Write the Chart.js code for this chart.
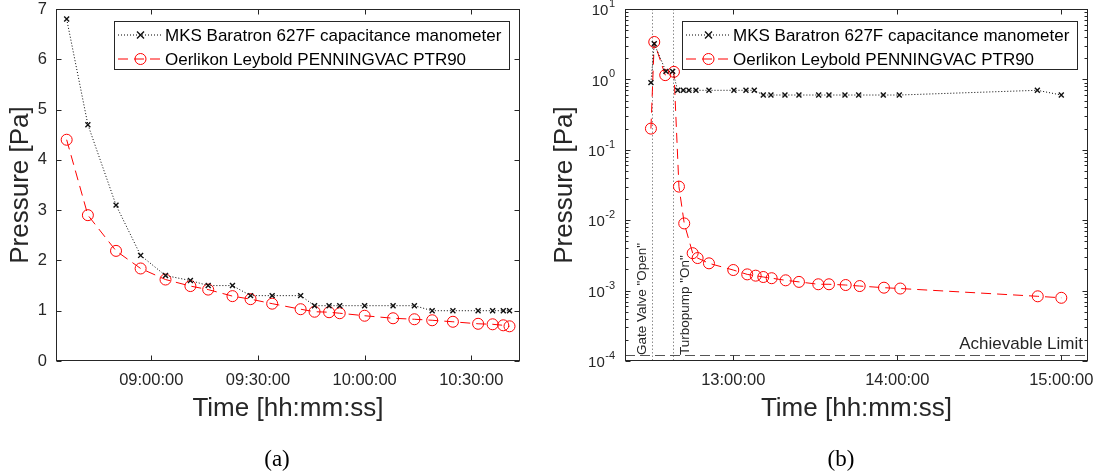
<!DOCTYPE html>
<html>
<head>
<meta charset="utf-8">
<script src="https://cdn.jsdelivr.net/npm/chart.js@4.4.0/dist/chart.umd.min.js"></script>
<style>
  html, body { margin: 0; padding: 0; background: #fff; }
  #wrap { position: relative; width: 1109px; height: 475px; overflow: hidden; }
  canvas { position: absolute; top: 0; }
  #chartA { left: 0; }
  #chartB { left: 545px; }
  .cap { position: absolute; top: 447px; font-family: "Liberation Serif", "DejaVu Serif", serif;
         font-size: 23px; line-height: 23px; color: #000; transform: translateX(-50%); }
</style>
</head>
<body>
<div id="wrap">
  <canvas id="chartA" width="560" height="475"></canvas>
  <canvas id="chartB" width="564" height="475"></canvas>
  <div class="cap" style="left:277px">(a)</div>
  <div class="cap" style="left:841px">(b)</div>
</div>
<script>
//
// Data
//

var seriesNames = ["MKS Baratron 627F capacitance manometer", "Oerlikon Leybold PENNINGVAC PTR90"];

// (a) both gauges read at the same times
var timesA = ["08:36:12", "08:42:10", "08:50:05", "08:57:00", "09:04:00", "09:11:00", "09:16:00", "09:22:50",
              "09:27:55", "09:34:00", "09:42:00", "09:45:55", "09:50:00", "09:53:00", "10:00:00", "10:08:00",
              "10:14:00", "10:19:00", "10:24:50", "10:31:55", "10:36:00", "10:39:00", "10:40:45"];
var baratronA = [6.8, 4.7, 3.1, 2.1, 1.7, 1.6, 1.5, 1.5, 1.3, 1.3, 1.3, 1.1, 1.1, 1.1, 1.1, 1.1,
                 1.1, 1.0, 1.0, 1.0, 1.0, 1.0, 1.0];
var penningA = [4.4, 2.9, 2.19, 1.84, 1.62, 1.49, 1.42, 1.29, 1.23, 1.14, 1.03, 0.98, 0.97, 0.95, 0.90, 0.85,
                0.83, 0.81, 0.78, 0.74, 0.73, 0.71, 0.69];
var xRangeA = ["08:33:12", "10:43:42"];
var xTickLabelsA = ["09:00:00", "09:30:00", "10:00:00", "10:30:00"];
var yTicksA = [0, 1, 2, 3, 4, 5, 6, 7];

// (b)
var timesBaratronB = ["12:29:53", "12:31:06", "12:35:22", "12:37:50", "12:39:40", "12:41:43", "12:43:47", "12:46:21",
                      "12:51:07", "13:00:15", "13:04:39", "13:07:41", "13:10:59", "13:13:47", "13:18:55", "13:24:02",
                      "13:31:15", "13:35:01", "13:40:52", "13:45:53", "13:54:53", "14:00:44", "14:51:14", "15:00:00"];
var baratronB = [0.9, 3.2, 1.3, 1.3, 0.7, 0.7, 0.7, 0.7, 0.7, 0.7, 0.7, 0.7, 0.6, 0.6, 0.6, 0.6,
                 0.6, 0.6, 0.6, 0.6, 0.6, 0.6, 0.7, 0.6];
var timesPenningB = ["12:29:53", "12:31:06", "12:35:07", "12:38:18", "12:40:08", "12:42:04", "12:45:09", "12:46:58",
                     "12:51:07", "13:00:00", "13:05:07", "13:08:12", "13:10:59", "13:14:03", "13:19:10", "13:24:02",
                     "13:31:06", "13:35:01", "13:41:08", "13:46:15", "13:55:08", "14:01:06", "14:51:23", "15:00:00"];
var penningB = [0.2, 3.4, 1.15, 1.28, 0.030, 0.0090, 0.0034, 0.0029, 0.00244, 0.00196, 0.0017, 0.00163,
                0.00156, 0.0015, 0.0014, 0.00133, 0.00123, 0.00123, 0.0012, 0.00116, 0.0011, 0.00107, 0.00083, 0.00079];
var xRangeB = ["12:20:24", "15:09:46"];
var xTickLabelsB = ["13:00:00", "14:00:00", "15:00:00"];
var yDecadesB = [-4, -3, -2, -1, 0, 1];
var gateValveTime = "12:30:24";
var turbopumpTime = "12:37:48";
var achievableLimit = 1.22e-4;

//
// Helpers
//

var AXIS = "#262626";
var FONT = '"Liberation Sans", Arial, Helvetica, sans-serif';

function minutes(s) {
  var p = s.split(":");
  return (+p[0]) * 60 + (+p[1]) + (+p[2]) / 60;
}

function clock(m) {
  var t = Math.round(m * 60);
  return [Math.floor(t / 3600), Math.floor(t % 3600 / 60), t % 60]
    .map(function (v) { return (v < 10 ? "0" : "") + v; }).join(":");
}

function points(times, values) {
  return times.map(function (t, i) { return { x: minutes(t), y: values[i] }; });
}

function marker(ctx, d, x, y) {
  var r = d.pointRadius;
  ctx.save();
  ctx.strokeStyle = d.pointBorderColor;
  ctx.lineWidth = d.pointBorderWidth;
  ctx.setLineDash([]);
  ctx.beginPath();
  if (d.pointStyle === "crossRot") {
    ctx.moveTo(x - r, y - r); ctx.lineTo(x + r, y + r);
    ctx.moveTo(x - r, y + r); ctx.lineTo(x + r, y - r);
  } else {
    ctx.arc(x, y, r, 0, Math.PI * 2);
  }
  ctx.stroke();
  ctx.restore();
}

// legend box inside the top right corner of the axes
function drawLegend(chart) {
  var ctx = chart.ctx, a = chart.chartArea, ds = chart.data.datasets;
  ctx.save();
  ctx.font = "17px " + FONT;
  var tw = Math.max.apply(null, ds.map(function (d) { return ctx.measureText(d.label).width; }));
  var w = Math.round(51 + tw + 8), h = 48;
  var right = Math.round(a.right) - 11, left = right - w, top = Math.round(a.top) + 12;
  ctx.fillStyle = "#fff";
  ctx.fillRect(left, top, w, h);
  ctx.strokeStyle = AXIS;
  ctx.lineWidth = 1;
  ctx.strokeRect(left + 0.5, top + 0.5, w, h);
  ds.forEach(function (d, i) {
    var y = top + 14 + i * 24;
    ctx.strokeStyle = d.borderColor;
    ctx.lineWidth = d.borderWidth;
    ctx.setLineDash(d.borderDash);
    ctx.beginPath();
    ctx.moveTo(left + 4, y);
    ctx.lineTo(left + 49, y);
    ctx.stroke();
    ctx.setLineDash([]);
    marker(ctx, d, left + 26.5, y);
    ctx.fillStyle = "#000";
    ctx.textAlign = "left";
    ctx.textBaseline = "middle";
    ctx.fillText(d.label, left + 51, y + 1);
  });
  ctx.restore();
}

// MATLAB style box with inward ticks on all four sides
var boxAxes = {
  id: "boxAxes",
  afterDraw: function (chart) {
    var ctx = chart.ctx, a = chart.chartArea, xs = chart.scales.x, ys = chart.scales.y;
    var L = Math.round(a.left) + 0.5, R = Math.round(a.right) - 0.5;
    var T = Math.round(a.top) + 0.5, B = Math.round(a.bottom) - 0.5;
    ctx.save();
    ctx.strokeStyle = AXIS;
    ctx.lineWidth = 1;
    ctx.beginPath();
    xs.ticks.forEach(function (t) {
      var p = Math.round(xs.getPixelForValue(t.value)) + 0.5;
      ctx.moveTo(p, B); ctx.lineTo(p, B - 5);
      ctx.moveTo(p, T); ctx.lineTo(p, T + 5);
    });
    ys.ticks.forEach(function (t) {
      var p = Math.round(ys.getPixelForValue(t.value)) + 0.5;
      ctx.moveTo(L, p); ctx.lineTo(L + 5, p);
      ctx.moveTo(R, p); ctx.lineTo(R - 5, p);
    });
    if (ys.type === "logarithmic") {
      yDecadesB.slice(0, -1).forEach(function (e) {
        for (var k = 2; k < 10; k++) {
          var p = Math.round(ys.getPixelForValue(k * Math.pow(10, e))) + 0.5;
          ctx.moveTo(L, p); ctx.lineTo(L + 3, p);
          ctx.moveTo(R, p); ctx.lineTo(R - 3, p);
        }
      });
      // 10^n labels
      ctx.fillStyle = AXIS;
      ctx.textAlign = "right";
      ctx.textBaseline = "middle";
      ys.ticks.forEach(function (t) {
        var e = String(Math.round(Math.log10(t.value)));
        var p = ys.getPixelForValue(t.value), x = a.left - 10;
        ctx.font = "11px " + FONT;
        var ew = ctx.measureText(e).width;
        ctx.fillText(e, x, p - 5);
        ctx.font = "15px " + FONT;
        ctx.fillText("10", x - ew - 0.5, p + 2);
      });
    }
    ctx.stroke();
    ctx.strokeRect(L, T, R - L, B - T);
    ctx.restore();
    drawLegend(chart);
  }
};

// event markers and achievable limit for (b)
var events = {
  id: "events",
  beforeDatasetsDraw: function (chart) {
    var ctx = chart.ctx, a = chart.chartArea, xs = chart.scales.x, ys = chart.scales.y;
    ctx.save();
    ctx.lineWidth = 1;
    ctx.strokeStyle = "#8c8c8c";
    ctx.setLineDash([1.5, 2]);
    [gateValveTime, turbopumpTime].forEach(function (t) {
      var p = Math.round(xs.getPixelForValue(minutes(t))) + 0.5;
      ctx.beginPath(); ctx.moveTo(p, a.top); ctx.lineTo(p, a.bottom); ctx.stroke();
    });
    ctx.strokeStyle = "#555";
    ctx.setLineDash([10, 5]);
    var yl = Math.round(ys.getPixelForValue(achievableLimit)) + 0.5;
    ctx.beginPath(); ctx.moveTo(a.left, yl); ctx.lineTo(a.right, yl); ctx.stroke();
    ctx.setLineDash([]);

    ctx.fillStyle = AXIS;
    ctx.font = "17px " + FONT;
    ctx.textAlign = "right";
    ctx.textBaseline = "alphabetic";
    ctx.fillText("Achievable Limit", a.right - 5, yl - 7);

    ctx.font = "13.5px " + FONT;
    ctx.textAlign = "left";
    [[gateValveTime, -6.8, 'Gate Valve "Open"'], [turbopumpTime, 16.8, 'Turbopump "On"']].forEach(function (ev) {
      ctx.save();
      ctx.translate(xs.getPixelForValue(minutes(ev[0])) + ev[1], a.bottom - 6);
      ctx.rotate(-Math.PI / 2);
      ctx.fillText(ev[2], 0, 0);
      ctx.restore();
    });
    ctx.restore();
  }
};

function makeDatasets(bx, by, px, py) {
  return [
    {
      label: seriesNames[0], data: points(bx, by),
      borderColor: "#000", borderWidth: 1, borderDash: [1, 2],
      pointStyle: "crossRot", pointRadius: 3.5, pointBorderWidth: 1.4,
      pointBorderColor: "#111", pointBackgroundColor: "#111", fill: false
    },
    {
      label: seriesNames[1], data: points(px, py),
      borderColor: "#ff0000", borderWidth: 1, borderDash: [10, 6],
      pointStyle: "circle", pointRadius: 5.5, pointBorderWidth: 1,
      pointBorderColor: "#ff0000", pointBackgroundColor: "rgba(0,0,0,0)", fill: false
    }
  ];
}

function xScale(range, labels) {
  return {
    type: "linear", min: minutes(range[0]), max: minutes(range[1]),
    grid: { display: false, drawTicks: false }, border: { display: false },
    afterBuildTicks: function (s) { s.ticks = labels.map(function (l) { return { value: minutes(l) }; }); },
    afterFit: function (s) { s.height = 475 - 361; s.paddingLeft = 0; s.paddingRight = 0; },
    ticks: { callback: clock, color: AXIS, font: { family: FONT, size: 16.5 }, padding: 10, maxRotation: 0, autoSkip: false },
    title: { display: true, text: "Time [hh:mm:ss]", color: AXIS, font: { family: FONT, size: 26 }, padding: { top: 0, bottom: 51 } }
  };
}

function baseOptions(padRight) {
  return {
    responsive: false, animation: false, devicePixelRatio: 1,
    layout: { padding: { left: 0, right: padRight, top: 9, bottom: 0 } },
    plugins: { legend: { display: false }, tooltip: { enabled: false } },
    elements: { line: { tension: 0 } }
  };
}

//
// (a) linear
//

var optsA = baseOptions(40);
optsA.scales = {
  x: xScale(xRangeA, xTickLabelsA),
  y: {
    type: "linear", min: 0, max: 7,
    grid: { display: false, drawTicks: false }, border: { display: false },
    afterBuildTicks: function (s) { s.ticks = yTicksA.map(function (v) { return { value: v }; }); },
    afterFit: function (s) { s.width = 56; s.paddingTop = 0; s.paddingBottom = 0; },
    ticks: { color: AXIS, font: { family: FONT, size: 16.5 }, padding: 9 },
    title: { display: true, text: "Pressure [Pa]", color: AXIS, font: { family: FONT, size: 26 }, padding: { top: 5, bottom: 0 } }
  }
};

new Chart(document.getElementById("chartA"), {
  type: "line",
  data: { datasets: makeDatasets(timesA, baratronA, timesA, penningA) },
  options: optsA,
  plugins: [boxAxes]
});

//
// (b) logarithmic
//

var optsB = baseOptions(21);
optsB.scales = {
  x: xScale(xRangeB, xTickLabelsB),
  y: {
    type: "logarithmic", min: Math.pow(10, yDecadesB[0]), max: Math.pow(10, yDecadesB[yDecadesB.length - 1]),
    grid: { display: false, drawTicks: false }, border: { display: false },
    afterBuildTicks: function (s) { s.ticks = yDecadesB.map(function (e) { return { value: Math.pow(10, e) }; }); },
    afterFit: function (s) { s.width = 80; s.paddingTop = 0; s.paddingBottom = 0; },
    ticks: { display: false },
    title: { display: true, text: "Pressure [Pa]", color: AXIS, font: { family: FONT, size: 26 }, padding: { top: 4, bottom: 0 } }
  }
};

new Chart(document.getElementById("chartB"), {
  type: "line",
  data: { datasets: makeDatasets(timesBaratronB, baratronB, timesPenningB, penningB) },
  options: optsB,
  plugins: [events, boxAxes]
});
</script>
</body>
</html>
